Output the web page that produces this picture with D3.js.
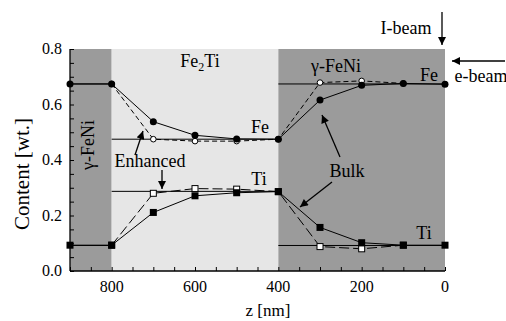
<!DOCTYPE html>
<html>
<head>
<meta charset="utf-8">
<script src="https://cdn.jsdelivr.net/npm/d3@7"></script>
<style>
  body { margin:0; background:#fff; }
</style>
</head>
<body>
<div id="chart"></div>
<script>
// depth values (nm) and compositions
var depth = [900, 800, 700, 600, 500, 400, 300, 200, 100, 0];
var feBulk = [0.674, 0.674, 0.538, 0.489, 0.476, 0.475, 0.616, 0.669, 0.676, 0.673];
var tiBulk = [0.093, 0.093, 0.211, 0.271, 0.282, 0.286, 0.157, 0.102, 0.093, 0.093];

var depthEnh = [800, 700, 600, 500, 400, 300, 200, 100];
var feEnhanced = [0.674, 0.475, 0.468, 0.468, 0.475, 0.679, 0.685, 0.676];
var tiEnhanced = [0.093, 0.280, 0.297, 0.295, 0.286, 0.088, 0.080, 0.093];

// phase zones
var phaseFrom = [900, 800, 400];
var phaseTo = [800, 400, 0];
var phaseName = ["fenI", "fe2ti", "fenI"];

// equilibrium levels per phase
var levelFe = [0.674, 0.475, 0.674];
var levelTi = [0.092, 0.287, 0.092];

var xTicks = [800, 600, 400, 200, 0];
var yTicks = [0, 0.2, 0.4, 0.6, 0.8];

var W = 506, H = 321;
var margin = {top:49, left:70, right:61, bottom:50};
var serif = '"Liberation Serif", "Times New Roman", "DejaVu Serif", serif';

var x = d3.scaleLinear().domain([900, 0]).range([margin.left, W - margin.right]);
var y = d3.scaleLinear().domain([0, 0.8]).range([H - margin.bottom, margin.top]);

var svg = d3.select("#chart").append("svg")
    .attr("width", W).attr("height", H)
    .attr("font-family", serif);

var zoneColor = {fenI:"#9b9b9b", fe2ti:"#e6e6e6"};

// background zones
for (var i = 0; i < phaseFrom.length; i++) {
  svg.append("rect")
    .attr("x", x(phaseFrom[i]))
    .attr("width", x(phaseTo[i]) - x(phaseFrom[i]))
    .attr("y", y(0.8))
    .attr("height", y(0) - y(0.8))
    .style("fill", zoneColor[phaseName[i]]);
  // equilibrium lines
  [levelFe[i], levelTi[i]].forEach(function(v){
    svg.append("line")
      .attr("x1", x(phaseFrom[i])).attr("x2", x(phaseTo[i]))
      .attr("y1", y(v)).attr("y2", y(v))
      .style("stroke", "#000").style("stroke-width", 1);
  });
}

// axes
var xAxisMinor = d3.axisBottom(x).tickValues(d3.range(0, 901, 50)).tickSize(-4).tickFormat("");
var yAxisMinor = d3.axisLeft(y).tickValues(d3.range(0, 0.801, 0.05)).tickSize(-4).tickFormat("");

var gx = svg.append("g").attr("transform", "translate(0," + y(0) + ")").call(xAxisMinor);
var gy = svg.append("g").attr("transform", "translate(" + x(900) + ",0)").call(yAxisMinor);
[gx, gy].forEach(function(g){
  g.select(".domain").style("stroke", "#000").style("stroke-width", 1.3);
  g.selectAll(".tick line").style("stroke", "#000");
});
gx.select(".domain").attr("d", "M" + x(900) + ",0H" + x(0));
gy.select(".domain").attr("d", "M0," + y(0) + "V" + y(0.8));

function label(txt, px, py, size, anchor) {
  return svg.append("text")
    .attr("x", px).attr("y", py)
    .attr("text-anchor", anchor || "middle")
    .attr("font-family", serif)
    .style("font-size", size + "px")
    .style("fill", "#000")
    .text(txt);
}

xTicks.forEach(function(d){ label(d, x(d), y(0) + 21, 16); });
yTicks.forEach(function(d){ label(d.toFixed(1), x(900) - 8, y(d) + 5, 16, "end"); });

label("Content [wt.]", 0, 0, 21)
  .attr("transform", "translate(29,174) rotate(-90)");
label("z [nm]", 268, 316, 17).attr("xml:space", "preserve");

// series
function series(xs, ys, dash) {
  var line = d3.line()
    .x(function(d, i){ return x(xs[i]); })
    .y(function(d){ return y(d); });
  svg.append("path")
    .datum(ys)
    .attr("d", line)
    .style("fill", "none")
    .style("stroke", "#000")
    .style("stroke-width", 1)
    .style("stroke-dasharray", dash);
}
series(depthEnh, feEnhanced, "5,3");
series(depthEnh, tiEnhanced, "10,4");
series(depth, feBulk, null);
series(depth, tiBulk, null);

svg.append("g").selectAll("circle").data(feEnhanced).enter().append("circle")
  .attr("cx", function(d, i){ return x(depthEnh[i]); })
  .attr("cy", function(d){ return y(d); })
  .attr("r", 2.8)
  .style("fill", "#fff").style("stroke", "#000");
svg.append("g").selectAll("rect").data(tiEnhanced).enter().append("rect")
  .attr("x", function(d, i){ return x(depthEnh[i]) - 3; })
  .attr("y", function(d){ return y(d) - 3; })
  .attr("width", 6).attr("height", 6)
  .style("fill", "#fff").style("stroke", "#000");

svg.append("g").selectAll("circle").data(feBulk).enter().append("circle")
  .attr("cx", function(d, i){ return x(depth[i]); })
  .attr("cy", function(d){ return y(d); })
  .attr("r", 3.5)
  .style("fill", "#000");
svg.append("g").selectAll("rect").data(tiBulk).enter().append("rect")
  .attr("x", function(d, i){ return x(depth[i]) - 3.5; })
  .attr("y", function(d){ return y(d) - 3.5; })
  .attr("width", 7).attr("height", 7)
  .style("fill", "#000");

// arrow marker
svg.append("defs").append("marker")
  .attr("id", "ah")
  .attr("viewBox", "0 0 10 10")
  .attr("refX", 10).attr("refY", 5)
  .attr("markerWidth", 10).attr("markerHeight", 8)
  .attr("markerUnits", "userSpaceOnUse")
  .attr("orient", "auto")
  .append("path").attr("d", "M0,0L10,5L0,10Z").style("fill", "#000");

function arrow(x1, y1, x2, y2) {
  svg.append("line")
    .attr("x1", x1).attr("y1", y1).attr("x2", x2).attr("y2", y2)
    .style("stroke", "#000").style("stroke-width", 1.3)
    .attr("marker-end", "url(#ah)");
}

// labels
var fe2ti = label("", 200, 67, 18);
fe2ti.append("tspan").text("Fe");
fe2ti.append("tspan").attr("dy", 4).style("font-size", "12px").text("2");
fe2ti.append("tspan").attr("dy", -4).text("Ti");

label("γ-FeNi", 0, 0, 18)
  .attr("transform", "translate(94,145) rotate(-90)");

label("γ-FeNi", 336, 72, 18);
label("Fe", 429, 81, 18);
label("Fe", 260, 133, 18);
label("Ti", 259, 185, 18);
label("Ti", 424, 239, 18);
label("Enhanced", 150, 167, 18);
label("Bulk", 347, 177, 18);
label("I-beam", 406, 34, 18);
label("e-beam", 481, 82, 18);

arrow(135, 155, 143, 131);
arrow(162, 170, 162, 189);
arrow(340, 157, 322, 115);
arrow(332, 182, 300, 207);
arrow(442, 12, 442, 45);
arrow(505, 61, 452, 61);
</script>
</body>
</html>
